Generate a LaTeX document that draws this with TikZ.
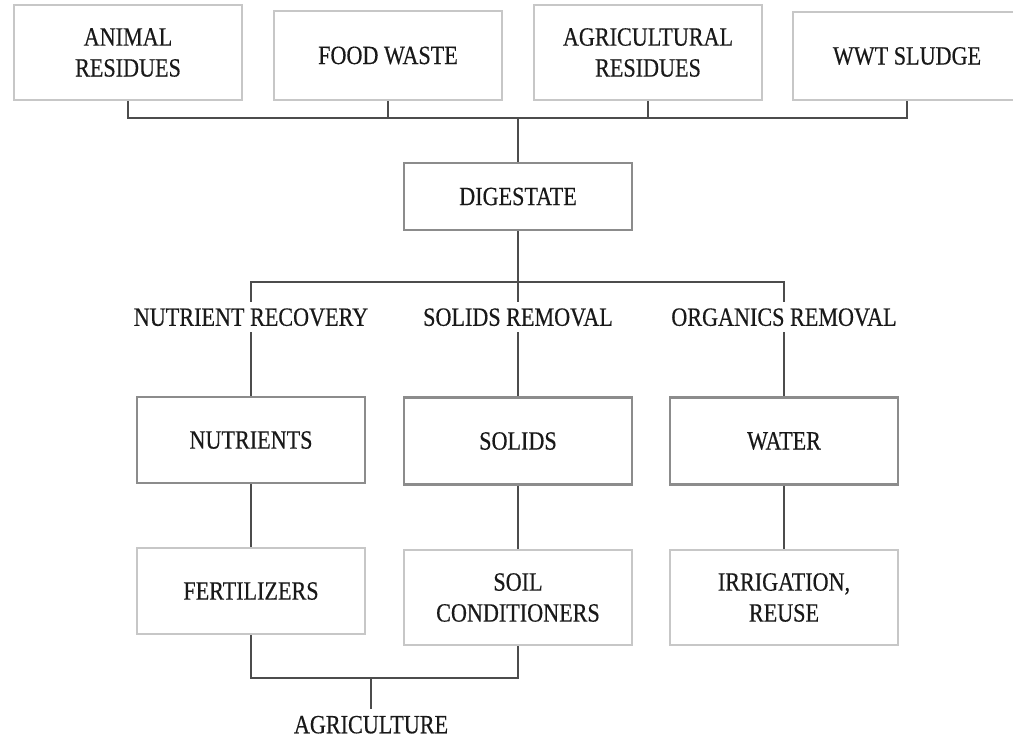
\documentclass[tikz,border=0pt]{standalone}
\usepackage{fontspec}
\setmainfont{Liberation Serif}[FakeStretch=0.84, FakeBold=0.4]
\usepackage{tikz}
\usetikzlibrary{positioning}

\begin{document}
\begin{tikzpicture}[
	x=0.2mm, y=-0.2mm,
	every node/.style = {align=center, font=\fontsize{15}{17.6}\selectfont, text=black!90},
	source box/.style = {draw=black!22, line width=1.2pt, minimum width=45.6mm, minimum height=17.6mm},
	stage box/.style = {draw=black!45, line width=1.4pt, minimum width=45.6mm, minimum height=17.4mm},
	use box/.style = {draw=black!22, line width=1.2pt, minimum width=45.6mm, minimum height=17.4mm},
	route label/.style = {inner sep=3.5pt, text height=10pt, text depth=0pt},
	link/.style = {draw=black!70, line width=0.9pt}
]

\useasboundingbox (0,0) rectangle (1013,738);

\node[source box, minimum height=19mm] (animal) at (128,52.5) {ANIMAL\\RESIDUES};
\node[source box, minimum height=17.8mm] (food) at (388,55.5) {FOOD WASTE};
\node[source box, minimum height=19mm] (agri) at (648,52.5) {AGRICULTURAL\\RESIDUES};
\node[source box] (wwt) at (907,56) {WWT SLUDGE};

\node[stage box, minimum height=13.4mm] (digestate) at (518,196.5) {DIGESTATE};

\node[route label] (nutrec) at (251,317) {NUTRIENT RECOVERY};
\node[route label] (solrem) at (518,317) {SOLIDS REMOVAL};
\node[route label] (orgrem) at (784,317) {ORGANICS REMOVAL};

\node[stage box, minimum height=17.2mm] (nutrients) at (251,440) {NUTRIENTS};
\node[stage box] (solids) at (518,441) {SOLIDS};
\node[stage box] (water) at (784,441) {WATER};

\node[use box, minimum height=17.2mm] (fert) at (251,591) {FERTILIZERS};
\node[use box, minimum height=19mm] (soil) at (518,597.5) {SOIL\\CONDITIONERS};
\node[use box, minimum height=19mm] (irrig) at (784,597.5) {IRRIGATION,\\REUSE};

\node[route label] (agriculture) at (371,724.5) {AGRICULTURE};

\coordinate (inbus) at (518,118);
\coordinate (outbus) at (518,282);
\coordinate (usebus) at (371,678);

\foreach \src in {animal, food, agri, wwt}
	\draw[link] (\src.south) |- (inbus);
\draw[link] (inbus) -- (digestate.north);
\draw[link] (digestate.south) -- (outbus);
\foreach \route in {nutrec, solrem, orgrem}
	\draw[link] (outbus) -| (\route.north);

\draw[link] (nutrec.south) -- (nutrients.north);
\draw[link] (solrem.south) -- (solids.north);
\draw[link] (orgrem.south) -- (water.north);

\draw[link] (nutrients.south) -- (fert.north);
\draw[link] (solids.south) -- (soil.north);
\draw[link] (water.south) -- (irrig.north);

\draw[link] (fert.south) |- (usebus);
\draw[link] (soil.south) |- (usebus);
\draw[link] (usebus) -- (agriculture.north);

\end{tikzpicture}
\end{document}
